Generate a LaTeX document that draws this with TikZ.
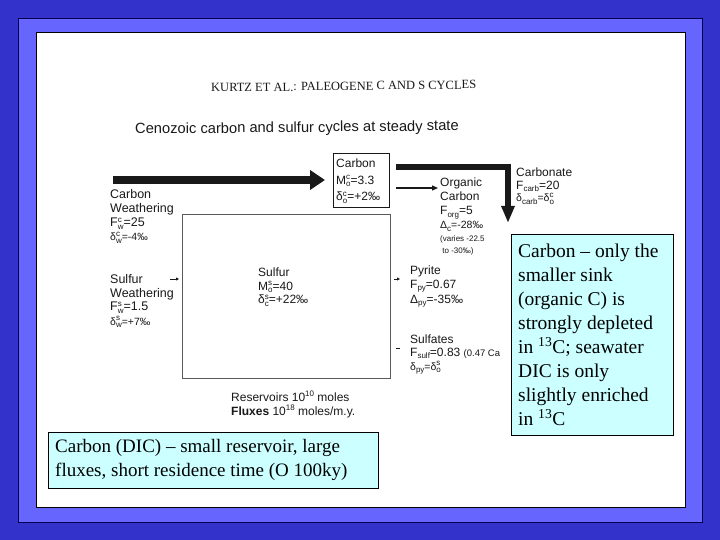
\documentclass[tikz,border=0pt]{standalone}
\usepackage{fontspec}
\setmainfont{Liberation Serif}
\newfontfamily\labfont{Liberation Sans}
\usetikzlibrary{arrows.meta,calc}
\definecolor{bgdark}{RGB}{51,51,204}
\definecolor{bgframe}{RGB}{102,102,255}
\definecolor{notecyan}{RGB}{204,255,255}
\definecolor{ink}{RGB}{25,25,25}
\newcommand\subsup[2]{\smash{\fontsize{8}{8}\selectfont\setbox0=\hbox{\raisebox{-2.2pt}{#1}}\setbox2=\hbox{\raisebox{4.5pt}{#2}}\ifdim\wd0>\wd2 \rlap{\box2}\box0\else\rlap{\box0}\box2\fi}}
\newcommand\lsub[1]{\smash{\raisebox{-2.2pt}{\fontsize{8}{8}\selectfont#1}}}
\newcommand\lsup[1]{\smash{\raisebox{4.5pt}{\fontsize{8}{8}\selectfont#1}}}
\newcommand\lines[1]{\begin{tabular}[t]{@{}l@{}}#1\end{tabular}}
\newcommand\smallline{\fontsize{10.5}{14}\selectfont}
\begin{document}
\begin{tikzpicture}[x=1pt,y=-1pt,
  lab/.style={inner sep=0pt, anchor=base west, text=ink, font=\labfont\fontsize{12}{14}\selectfont},
  note/.style={draw=black, line width=0.8pt, fill=notecyan, inner sep=0pt, anchor=north west},
  notetext/.style={inner sep=0pt, anchor=base west, text=black, font=\fontsize{19.5}{24}\selectfont},
  flowbig/.style={line width=8.5pt, draw=ink, -{Triangle[length=15pt,width=19pt]}},
  flowcarb/.style={line width=5.5pt, draw=ink, -{Triangle[length=17pt,width=12.5pt]}},
  flowthin/.style={line width=1.3pt, draw=ink, -{Triangle[length=6pt,width=5pt]}},
  flowtiny/.style={line width=0.8pt, draw=ink, -{Triangle[length=3pt,width=3pt]}},
  reservoir/.style={inner sep=0pt, anchor=north west},
]
% background and frame
\fill[bgdark] (0,0) rectangle (720,540);
\filldraw[fill=bgframe, draw=black!70!blue, line width=0.8pt] (18,18) rectangle (702,522);
\filldraw[fill=white, draw=black, line width=1pt] (36,33) rectangle (685,507);
\useasboundingbox (0,0) rectangle (720,540);

% reservoirs
\node[reservoir, draw=black!65, line width=0.9pt, minimum width=208pt, minimum height=164pt] (sbox) at (182,214) {};
\node[reservoir, draw=ink, line width=0.8pt, minimum width=56pt, minimum height=54pt] (cbox) at (333,153) {};

% header texts
\node[inner sep=0pt, anchor=base west, rotate=0.7, text=ink, font=\fontsize{12.5}{14}\selectfont] (hdr) at (211,92) {KURTZ ET AL.: PALEOGENE C AND S CYCLES};
\node[lab, rotate=0.6, font=\labfont\fontsize{14.7}{16}\selectfont] (title) at (135,134) {Cenozoic carbon and sulfur cycles at steady state};

% reservoir texts
\node[lab, font=\labfont\fontsize{12}{16.5}\selectfont] (ctext) at (336,168) {\lines{Carbon\\M\subsup{o}{c}=3.3\\δ\subsup{o}{c}=+2‰}};
\node[lab] (stext) at (258,276) {\lines{Sulfur\\M\subsup{o}{s}=40\\δ\subsup{c}{s}=+22‰}};

% weathering texts
\node[lab, font=\labfont\fontsize{12.5}{14}\selectfont] (cweath) at (110,199) {\lines{Carbon\\Weathering\\F\subsup{w}{c}=25\\{\smallline δ\subsup{w}{c}=-4‰}}};
\node[lab, font=\labfont\fontsize{12.5}{14}\selectfont] (sweath) at (110,283) {\lines{Sulfur\\Weathering\\F\subsup{w}{s}=1.5\\{\smallline δ\subsup{w}{s}=+7‰}}};

% sink texts
\node[lab, font=\labfont\fontsize{12}{12.5}\selectfont] (carbtext) at (516,177) {\lines{Carbonate\\F\lsub{carb}=20\\{\smallline δ\lsub{carb}=δ\subsup{o}{c}}}};
\node[lab] (orgtext) at (440,187) {\lines{Organic\\Carbon\\F\lsub{org}=5\\{\smallline Δ\lsub{c}=-28‰}}};
\node[lab, font=\labfont\fontsize{8}{12.5}\selectfont] (orgnote) at (440,241) {\lines{(varies -22.5\\\ to -30‰)}};
\node[lab, font=\labfont\fontsize{12}{14.5}\selectfont] (pytext) at (410,274) {\lines{Pyrite\\F\lsub{py}=0.67\\Δ\lsub{py}=-35‰}};
\node[lab, font=\labfont\fontsize{12}{13.5}\selectfont] (sulftext) at (410,343) {\lines{Sulfates\\F\lsub{sulf}=0.83 {\fontsize{9.5}{13.5}\selectfont (0.47 Ca}\\{\smallline δ\lsub{py}=δ\subsup{o}{s}}}};
\node[lab] (units) at (231,401) {\lines{Reservoirs 10\lsup{10} moles\\\textbf{Fluxes} 10\lsup{18} moles/m.y.}};

% fluxes
\coordinate (cwstart) at (113,180);
\draw[flowbig, shorten >=8pt] (cwstart) -- (cwstart -| cbox.west);
\coordinate (carbstart) at ($(cbox.north east)+(6,14)$);
\coordinate (carbtip) at (508,223);
\draw[flowcarb] (carbstart) -| (carbtip);
\coordinate (orgstart) at ($(cbox.north east)+(6,35)$);
\draw[flowthin, shorten >=2pt] (orgstart) -- (orgstart -| orgtext.west);
\coordinate (swstart) at ($(sbox.north west)+(-12,65)$);
\draw[flowtiny, shorten >=3pt] (swstart) -- (swstart -| sbox.west);
\coordinate (pystart) at ($(sbox.north east)+(3,65)$);
\draw[flowtiny, shorten >=10pt] (pystart) -- (pystart -| pytext.west);
\coordinate (sustart) at ($(sbox.north east)+(5,134)$);
\draw[line width=0.8pt, draw=ink, shorten >=10pt] (sustart) -- (sustart -| sulftext.west);

% notes
\node[note, minimum width=162pt, minimum height=201pt] (rnote) at (511,234) {};
\node[notetext] (rtext) at (518,257.7) {\lines{Carbon – only the\\smaller sink\\(organic C) is\\strongly depleted\\in \textsuperscript{13}C; seawater\\DIC is only\\slightly enriched\\in \textsuperscript{13}C}};
\node[note, minimum width=330pt, minimum height=56pt] (bnote) at (48,432) {};
\node[notetext, font=\fontsize{19}{24.5}\selectfont] (btext) at (55,452) {\lines{Carbon (DIC) – small reservoir, large\\fluxes, short residence time (O 100ky)}};
\end{tikzpicture}
\end{document}
